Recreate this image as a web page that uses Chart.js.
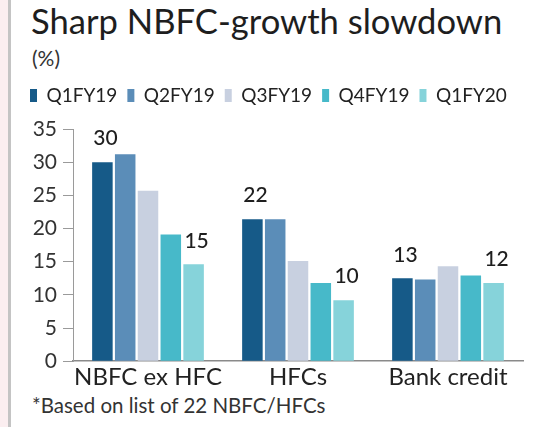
<!DOCTYPE html>
<html>
<head>
<meta charset="utf-8">
<script src="https://cdn.jsdelivr.net/npm/chart.js@4.4.1/dist/chart.umd.min.js"></script>
<style>
  html, body { margin: 0; padding: 0; background: #fff; }
  body { width: 542px; height: 427px; position: relative; overflow: hidden; font-family: Lato, sans-serif; color: #222; }
  .edge { position: absolute; left: 0; top: 0; width: 8px; height: 427px; background: #fbeef0; border-right: 3px solid #c4c4c4; }
  .title { position: absolute; left: 31px; top: 0px; font-size: 34.6px; color: #1e1e1e; white-space: nowrap; }
  .unit { position: absolute; left: 32px; top: 45px; font-size: 21px; color: #333; }
  .note { position: absolute; left: 32px; top: 393px; font-size: 20.5px; color: #333; white-space: nowrap; }
  #wrap { position: absolute; left: 0; top: 0; width: 542px; height: 427px; }
</style>
</head>
<body>
<div class="edge"></div>
<div class="title">Sharp NBFC-growth slowdown</div>
<div class="unit">(%)</div>
<div class="note">*Based on list of 22 NBFC/HFCs</div>
<div id="wrap"><canvas id="chart"></canvas></div>
<script>
(function () {
  'use strict';

  // ---- data ----
  var categories = ['NBFC ex HFC', 'HFCs', 'Bank credit'];
  var seriesNames = ['Q1FY19', 'Q2FY19', 'Q3FY19', 'Q4FY19', 'Q1FY20'];
  var q1fy19 = [30, 21.4, 12.5];
  var q2fy19 = [31.2, 21.4, 12.3];
  var q3fy19 = [25.7, 15.1, 14.3];
  var q4fy19 = [19.1, 11.8, 12.9];
  var q1fy20 = [14.6, 9.2, 11.8];
  var q1fy19Labels = ['30', '22', '13'];
  var q1fy20Labels = ['15', '10', '12'];
  var yTicks = [0, 5, 10, 15, 20, 25, 30, 35];

  var colors = ['#165a88', '#5b8db8', '#c8d0e0', '#47b9c9', '#86d3da'];
  var series = [q1fy19, q2fy19, q3fy19, q4fy19, q1fy20];

  // extra room between the legend and the plot
  var legendGap = {
    id: 'legendGap',
    beforeInit: function (chart) {
      var fit = chart.legend.fit;
      chart.legend.fit = function () {
        fit.call(this);
        this.height += 14;
      };
    }
  };

  // labels above first and last bar of each group
  var barLabels = {
    id: 'barLabels',
    afterDatasetsDraw: function (chart) {
      var ctx = chart.ctx;
      ctx.save();
      ctx.font = '500 21px Lato, sans-serif';
      ctx.fillStyle = '#1e1e1e';
      ctx.textAlign = 'center';
      ctx.textBaseline = 'bottom';
      [[0, q1fy19Labels], [4, q1fy20Labels]].forEach(function (pair) {
        var meta = chart.getDatasetMeta(pair[0]);
        meta.data.forEach(function (bar, i) {
          ctx.fillText(pair[1][i], bar.x + 3, bar.y - 13);
        });
      });
      ctx.restore();
    }
  };

  new Chart(document.getElementById('chart').getContext('2d'), {
    type: 'bar',
    data: {
      labels: categories,
      datasets: series.map(function (vals, i) {
        return {
          label: seriesNames[i],
          data: vals,
          backgroundColor: colors[i],
          borderWidth: 0,
          categoryPercentage: 0.76,
          barPercentage: 0.9
        };
      })
    },
    options: {
      responsive: true,
      maintainAspectRatio: false,
      animation: false,
      layout: { padding: { left: 20, right: 19, top: 76, bottom: 33 } },
      plugins: {
        legend: {
          position: 'top',
          align: 'start',
          labels: {
            boxWidth: 7,
            boxHeight: 13,
            padding: 10,
            color: '#222',
            font: { size: 19, family: 'Lato' }
          }
        },
        tooltip: { enabled: false }
      },
      scales: {
        x: {
          grid: { display: false, drawTicks: false },
          border: { color: '#8a8a8a', width: 1.5 },
          ticks: { color: '#222', font: { size: 24, family: 'Lato' }, padding: 2, maxRotation: 0, minRotation: 0, autoSkip: false }
        },
        y: {
          min: 0,
          max: 35,
          afterBuildTicks: function (axis) {
            axis.ticks = yTicks.map(function (v) { return { value: v }; });
          },
          afterFit: function (axis) { axis.width = 53; },
          grid: { drawOnChartArea: false, drawTicks: true, tickLength: 10, color: '#9a9a9a' },
          border: { color: '#9a9a9a', width: 1 },
          ticks: { color: '#333', font: { size: 21, family: 'Lato' }, padding: 6 }
        }
      }
    },
    plugins: [legendGap, barLabels]
  });
})();
</script>
</body>
</html>
